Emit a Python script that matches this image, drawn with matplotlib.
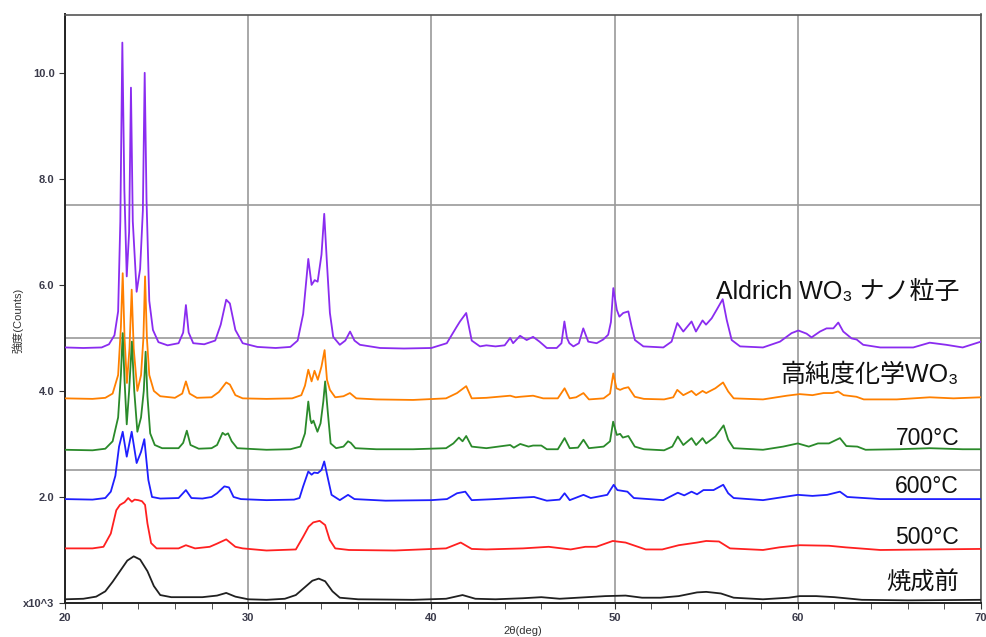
import matplotlib
matplotlib.use("Agg")
import matplotlib.pyplot as plt

plt.rcParams['font.family'] = ['Liberation Sans', 'Noto Sans CJK JP', 'DejaVu Sans']

# (2theta, intensity x10^3)
aldrich = [(20.0, 4.82), (21.0, 4.81), (22.0, 4.82), (22.4, 4.88), (22.7, 5.05), (22.9, 5.5), (23.02, 7.2),
           (23.13, 10.57), (23.24, 7.8), (23.37, 6.16), (23.5, 7.0), (23.6, 9.72), (23.7, 7.2), (23.91, 5.87),
           (24.1, 6.3), (24.25, 7.4), (24.35, 10.0), (24.45, 7.6), (24.6, 5.7), (24.8, 5.15), (25.1, 4.92),
           (25.6, 4.86), (26.2, 4.9), (26.45, 5.1), (26.6, 5.62), (26.75, 5.1), (27.0, 4.9), (27.6, 4.88),
           (28.2, 4.95), (28.5, 5.25), (28.8, 5.72), (29.0, 5.65), (29.3, 5.15), (29.7, 4.9), (30.5, 4.83),
           (31.5, 4.81), (32.3, 4.83), (32.7, 4.95), (33.0, 5.45), (33.28, 6.49), (33.46, 6.0), (33.63, 6.09),
           (33.79, 6.06), (34.0, 6.57), (34.15, 7.34), (34.3, 6.4), (34.46, 5.47), (34.64, 5.02), (35.0, 4.87),
           (35.3, 4.95), (35.56, 5.12), (35.8, 4.95), (36.1, 4.87), (37.2, 4.81), (38.5, 4.80), (40.0, 4.81),
           (40.84, 4.9), (41.38, 5.21), (41.56, 5.31), (41.9, 5.47), (42.2, 4.95), (42.65, 4.84), (43.0, 4.86),
           (43.5, 4.84), (44.0, 4.86), (44.3, 5.0), (44.46, 4.9), (44.84, 5.04), (45.2, 4.96), (45.55, 5.02),
           (45.9, 4.93), (46.3, 4.81), (46.84, 4.81), (47.1, 4.9), (47.26, 5.31), (47.4, 5.0), (47.53, 4.9),
           (47.75, 4.84), (48.05, 4.9), (48.29, 5.18), (48.56, 4.93), (49.02, 4.9), (49.38, 4.97), (49.65, 5.06),
           (49.8, 5.3), (49.93, 5.94), (50.12, 5.53), (50.26, 5.40), (50.47, 5.47), (50.75, 5.5), (50.93, 5.21),
           (51.11, 4.96), (51.57, 4.84), (52.66, 4.82), (53.11, 4.93), (53.42, 5.28), (53.75, 5.12), (54.2, 5.31),
           (54.44, 5.12), (54.8, 5.33), (54.99, 5.25), (55.3, 5.37), (55.57, 5.53), (55.9, 5.73), (56.12, 5.34),
           (56.39, 4.96), (56.85, 4.84), (58.1, 4.82), (59.03, 4.93), (59.66, 5.09), (60.03, 5.14), (60.48, 5.08),
           (60.75, 5.01), (61.21, 5.12), (61.57, 5.18), (61.94, 5.18), (62.21, 5.29), (62.48, 5.12), (62.94, 4.99),
           (63.21, 4.97), (63.57, 4.87), (64.5, 4.82), (66.3, 4.82), (67.2, 4.91), (68.1, 4.87), (69.0, 4.82),
           (70.0, 4.93)]

koujundo = [(20.0, 3.86), (21.5, 3.85), (22.2, 3.87), (22.6, 3.95), (22.9, 4.3), (23.05, 5.2), (23.15, 6.22),
            (23.25, 5.0), (23.38, 4.15), (23.52, 4.8), (23.64, 5.91), (23.75, 4.8), (23.95, 4.0), (24.15, 4.3),
            (24.28, 5.0), (24.37, 6.16), (24.47, 5.0), (24.6, 4.3), (24.85, 4.0), (25.2, 3.9), (26.0, 3.87),
            (26.4, 3.95), (26.6, 4.18), (26.8, 3.95), (27.2, 3.87), (28.0, 3.88), (28.4, 3.98), (28.8, 4.16),
            (29.0, 4.12), (29.3, 3.92), (29.7, 3.86), (31.0, 3.85), (32.4, 3.86), (32.9, 3.92), (33.1, 4.1),
            (33.28, 4.4), (33.46, 4.18), (33.62, 4.38), (33.8, 4.21), (34.0, 4.46), (34.17, 4.77), (34.3, 4.21),
            (34.46, 4.02), (34.75, 3.88), (35.2, 3.9), (35.55, 3.96), (35.9, 3.86), (37.0, 3.84), (39.0, 3.83),
            (40.8, 3.86), (41.4, 3.96), (41.9, 4.09), (42.2, 3.86), (43.0, 3.87), (44.3, 3.91), (44.6, 3.88),
            (44.85, 3.89), (45.55, 3.91), (46.1, 3.86), (46.9, 3.86), (47.27, 4.05), (47.55, 3.86), (47.9, 3.88),
            (48.3, 3.96), (48.6, 3.84), (49.4, 3.86), (49.75, 3.95), (49.93, 4.33), (50.1, 4.05), (50.3, 4.02),
            (50.5, 4.05), (50.75, 4.07), (51.1, 3.89), (51.6, 3.85), (52.7, 3.84), (53.2, 3.88), (53.42, 4.02),
            (53.75, 3.92), (54.2, 4.0), (54.45, 3.92), (54.8, 4.0), (55.0, 3.96), (55.5, 4.05), (55.92, 4.16),
            (56.2, 3.99), (56.5, 3.86), (58.1, 3.84), (59.4, 3.91), (60.1, 3.94), (60.8, 3.92), (61.4, 3.96),
            (61.9, 3.96), (62.2, 3.99), (62.5, 3.92), (63.2, 3.89), (63.6, 3.84), (65.4, 3.84), (67.2, 3.88),
            (68.5, 3.86), (70.0, 3.88)]

c700 = [(20.0, 2.89), (21.5, 2.88), (22.2, 2.91), (22.6, 3.05), (22.9, 3.5), (23.05, 4.3), (23.15, 5.09),
        (23.25, 4.2), (23.37, 3.37), (23.5, 4.0), (23.65, 4.93), (23.78, 4.0), (23.95, 3.23), (24.15, 3.5),
        (24.3, 4.0), (24.4, 4.74), (24.5, 3.9), (24.65, 3.2), (24.9, 2.98), (25.3, 2.92), (26.2, 2.92),
        (26.45, 3.02), (26.65, 3.25), (26.85, 2.98), (27.3, 2.91), (28.0, 2.92), (28.3, 2.98), (28.6, 3.21),
        (28.75, 3.17), (28.9, 3.2), (29.1, 3.05), (29.4, 2.92), (31.0, 2.89), (32.3, 2.9), (32.85, 2.95),
        (33.1, 3.2), (33.28, 3.8), (33.4, 3.45), (33.46, 3.39), (33.56, 3.44), (33.78, 3.23), (33.95, 3.39),
        (34.1, 3.8), (34.2, 4.18), (34.35, 3.58), (34.5, 3.01), (34.8, 2.92), (35.2, 2.95), (35.45, 3.05),
        (35.6, 3.02), (35.85, 2.92), (37.0, 2.9), (39.0, 2.9), (40.8, 2.92), (41.2, 3.01), (41.5, 3.12),
        (41.7, 3.05), (41.9, 3.15), (42.2, 2.95), (43.0, 2.92), (44.3, 2.98), (44.5, 2.93), (44.85, 3.0),
        (45.3, 2.95), (45.55, 2.97), (46.0, 2.97), (46.3, 2.9), (46.9, 2.9), (47.27, 3.11), (47.55, 2.92),
        (48.0, 2.93), (48.3, 3.08), (48.6, 2.92), (49.4, 2.95), (49.75, 3.05), (49.92, 3.42), (50.12, 3.17),
        (50.3, 3.19), (50.45, 3.12), (50.75, 3.15), (51.1, 2.95), (51.6, 2.9), (52.7, 2.88), (53.15, 2.95),
        (53.45, 3.14), (53.75, 2.98), (54.2, 3.11), (54.45, 2.98), (54.8, 3.11), (55.0, 3.01), (55.5, 3.14),
        (55.95, 3.35), (56.2, 3.08), (56.5, 2.92), (58.1, 2.89), (59.2, 2.95), (60.0, 3.01), (60.6, 2.95),
        (61.1, 3.01), (61.7, 3.01), (62.3, 3.11), (62.65, 2.96), (63.25, 2.95), (63.7, 2.89), (65.5, 2.9),
        (67.2, 2.92), (69.0, 2.9), (70.0, 2.9)]

c600 = [(20.0, 1.96), (21.5, 1.95), (22.2, 1.98), (22.5, 2.1), (22.75, 2.4), (22.95, 2.95), (23.15, 3.23),
        (23.37, 2.76), (23.64, 3.23), (23.91, 2.64), (24.15, 2.85), (24.33, 3.09), (24.55, 2.32), (24.75, 2.0),
        (25.2, 1.97), (26.2, 1.98), (26.6, 2.13), (26.9, 1.98), (27.5, 1.97), (28.0, 2.0), (28.3, 2.07),
        (28.7, 2.2), (28.95, 2.18), (29.2, 2.0), (29.6, 1.96), (31.0, 1.94), (32.5, 1.95), (32.8, 1.98),
        (33.0, 2.2), (33.28, 2.48), (33.46, 2.42), (33.6, 2.46), (33.8, 2.45), (34.0, 2.51), (34.15, 2.67),
        (34.37, 2.32), (34.55, 2.04), (35.0, 1.94), (35.45, 2.04), (35.8, 1.96), (37.5, 1.93), (40.0, 1.94),
        (40.85, 1.96), (41.4, 2.07), (41.85, 2.1), (42.2, 1.94), (43.5, 1.96), (44.5, 1.98), (45.6, 2.0),
        (46.3, 1.93), (47.0, 1.95), (47.27, 2.07), (47.55, 1.94), (48.3, 2.04), (48.7, 1.98), (49.6, 2.04),
        (49.95, 2.23), (50.15, 2.13), (50.7, 2.1), (51.05, 1.98), (52.66, 1.94), (53.45, 2.08), (53.8, 2.03),
        (54.2, 2.1), (54.5, 2.05), (54.85, 2.13), (55.4, 2.13), (55.93, 2.23), (56.2, 2.07), (56.5, 1.98),
        (58.1, 1.94), (60.0, 2.04), (60.8, 2.02), (61.6, 2.04), (62.3, 2.1), (62.7, 2.0), (64.5, 1.96),
        (70.0, 1.96)]

c500 = [(20.0, 1.03), (21.5, 1.03), (22.1, 1.06), (22.5, 1.31), (22.8, 1.75), (23.0, 1.85), (23.25, 1.9),
        (23.45, 1.98), (23.65, 1.91), (23.8, 1.95), (24.0, 1.94), (24.2, 1.92), (24.37, 1.85), (24.5, 1.5),
        (24.7, 1.13), (25.0, 1.03), (26.2, 1.03), (26.6, 1.09), (27.1, 1.03), (27.9, 1.06), (28.3, 1.12),
        (28.8, 1.2), (29.3, 1.06), (29.7, 1.03), (31.0, 0.99), (32.6, 1.01), (33.0, 1.25), (33.3, 1.44),
        (33.55, 1.52), (33.9, 1.55), (34.2, 1.47), (34.45, 1.19), (34.75, 1.03), (35.5, 1.0), (38.0, 0.99),
        (40.8, 1.03), (41.6, 1.14), (42.2, 1.02), (43.0, 1.01), (45.0, 1.03), (46.4, 1.06), (47.6, 1.01),
        (48.4, 1.06), (49.0, 1.06), (49.9, 1.17), (50.6, 1.14), (51.7, 1.01), (52.6, 1.01), (53.5, 1.09),
        (54.5, 1.14), (55.0, 1.17), (55.7, 1.16), (56.3, 1.03), (58.1, 1.0), (59.0, 1.05), (60.1, 1.09),
        (61.7, 1.08), (62.6, 1.05), (64.5, 1.0), (67.2, 1.01), (70.0, 1.02)]

before = [(20.0, 0.07), (21.0, 0.08), (21.7, 0.12), (22.2, 0.22), (22.6, 0.4), (23.0, 0.6), (23.4, 0.8),
          (23.75, 0.88), (24.1, 0.82), (24.5, 0.6), (24.85, 0.32), (25.2, 0.15), (25.8, 0.11), (26.6, 0.11),
          (27.5, 0.11), (28.3, 0.14), (28.8, 0.19), (29.3, 0.12), (30.0, 0.07), (31.0, 0.06), (32.0, 0.08),
          (32.6, 0.15), (33.1, 0.3), (33.5, 0.42), (33.85, 0.46), (34.2, 0.41), (34.6, 0.22), (35.0, 0.1),
          (36.0, 0.07), (39.0, 0.06), (40.8, 0.08), (41.7, 0.15), (42.4, 0.08), (43.5, 0.07), (45.0, 0.09),
          (46.0, 0.11), (47.0, 0.08), (48.0, 0.1), (49.5, 0.13), (50.6, 0.14), (51.5, 0.1), (52.5, 0.1),
          (53.5, 0.13), (54.5, 0.2), (55.0, 0.21), (55.8, 0.18), (56.5, 0.1), (58.1, 0.07), (59.5, 0.1),
          (60.1, 0.13), (61.0, 0.13), (62.0, 0.11), (63.5, 0.06), (66.0, 0.05), (70.0, 0.06)]

series = [aldrich, koujundo, c700, c600, c500, before]
labels = ["Aldrich WO\u2083 ナノ粒子", "高純度化学WO\u2083", "700°C", "600°C", "500°C", "焼成前"]
label_y = [5.85, 4.30, 3.11, 2.19, 1.23, 0.38]
label_size = [18, 18, 16.5, 16.5, 16.5, 17.5]
colors = ["#8a2cf0", "#ff8000", "#2a8a2a", "#1f1fff", "#ff2020", "#202020"]

xticks = [20, 30, 40, 50, 60, 70]
yticks = [0, 2, 4, 6, 8, 10]
ytick_labels = ["x10^3", "2.0", "4.0", "6.0", "8.0", "10.0"]
ygrid = [2.5, 5.0, 7.5, 10.0]

fig = plt.figure(figsize=(9.87, 6.37), dpi=100)
ax = fig.add_axes([65 / 987, 34 / 637, 916 / 987, 588.5 / 637])

for data, col in zip(series, colors):
    xs = [p[0] for p in data]
    ys = [p[1] for p in data]
    ax.plot(xs, ys, color=col, lw=1.3, zorder=3)

for lab, ly, fs in zip(labels, label_y, label_size):
    ax.text(68.8, ly, lab, ha='right', va='center', fontsize=fs, color='#111111', zorder=4)

ax.set_xlim(20, 70)
ax.set_ylim(0, 11.1)
ax.set_xticks(xticks)
ax.set_xticks(range(20, 71, 2), minor=True)
ax.set_yticks(yticks)
ax.set_yticklabels(ytick_labels)
ax.set_yticks(ygrid, minor=True)
ax.tick_params(axis='y', which='minor', length=0)
ax.tick_params(axis='both', which='major', labelsize=8, colors='#333333', length=4, direction='out')
ax.tick_params(axis='x', which='minor', length=4, direction='out', colors='#333333')
for t in ax.get_xticklabels() + ax.get_yticklabels():
    t.set_fontweight('bold')
    t.set_color('#3a3a4a')

ax.grid(True, axis='x', which='major', color='#9a9a9a', lw=1.2, zorder=1)
ax.grid(True, axis='y', which='minor', color='#9a9a9a', lw=1.2, zorder=1)
ax.grid(False, axis='y', which='major')

for side in ['left', 'bottom']:
    ax.spines[side].set_color('#222222')
    ax.spines[side].set_linewidth(1.4)
for side in ['top', 'right']:
    ax.spines[side].set_color('#555555')
    ax.spines[side].set_linewidth(1.2)

fig.text(18 / 987, 1 - 320 / 637, "強度(Counts)", rotation=90, ha='center', va='center', fontsize=8, color='#333333')
fig.text(523 / 987, 1 - 631 / 637, "2θ(deg)", ha='center', va='center', fontsize=8, color='#333333')

fig.savefig("out.png", dpi=100)
